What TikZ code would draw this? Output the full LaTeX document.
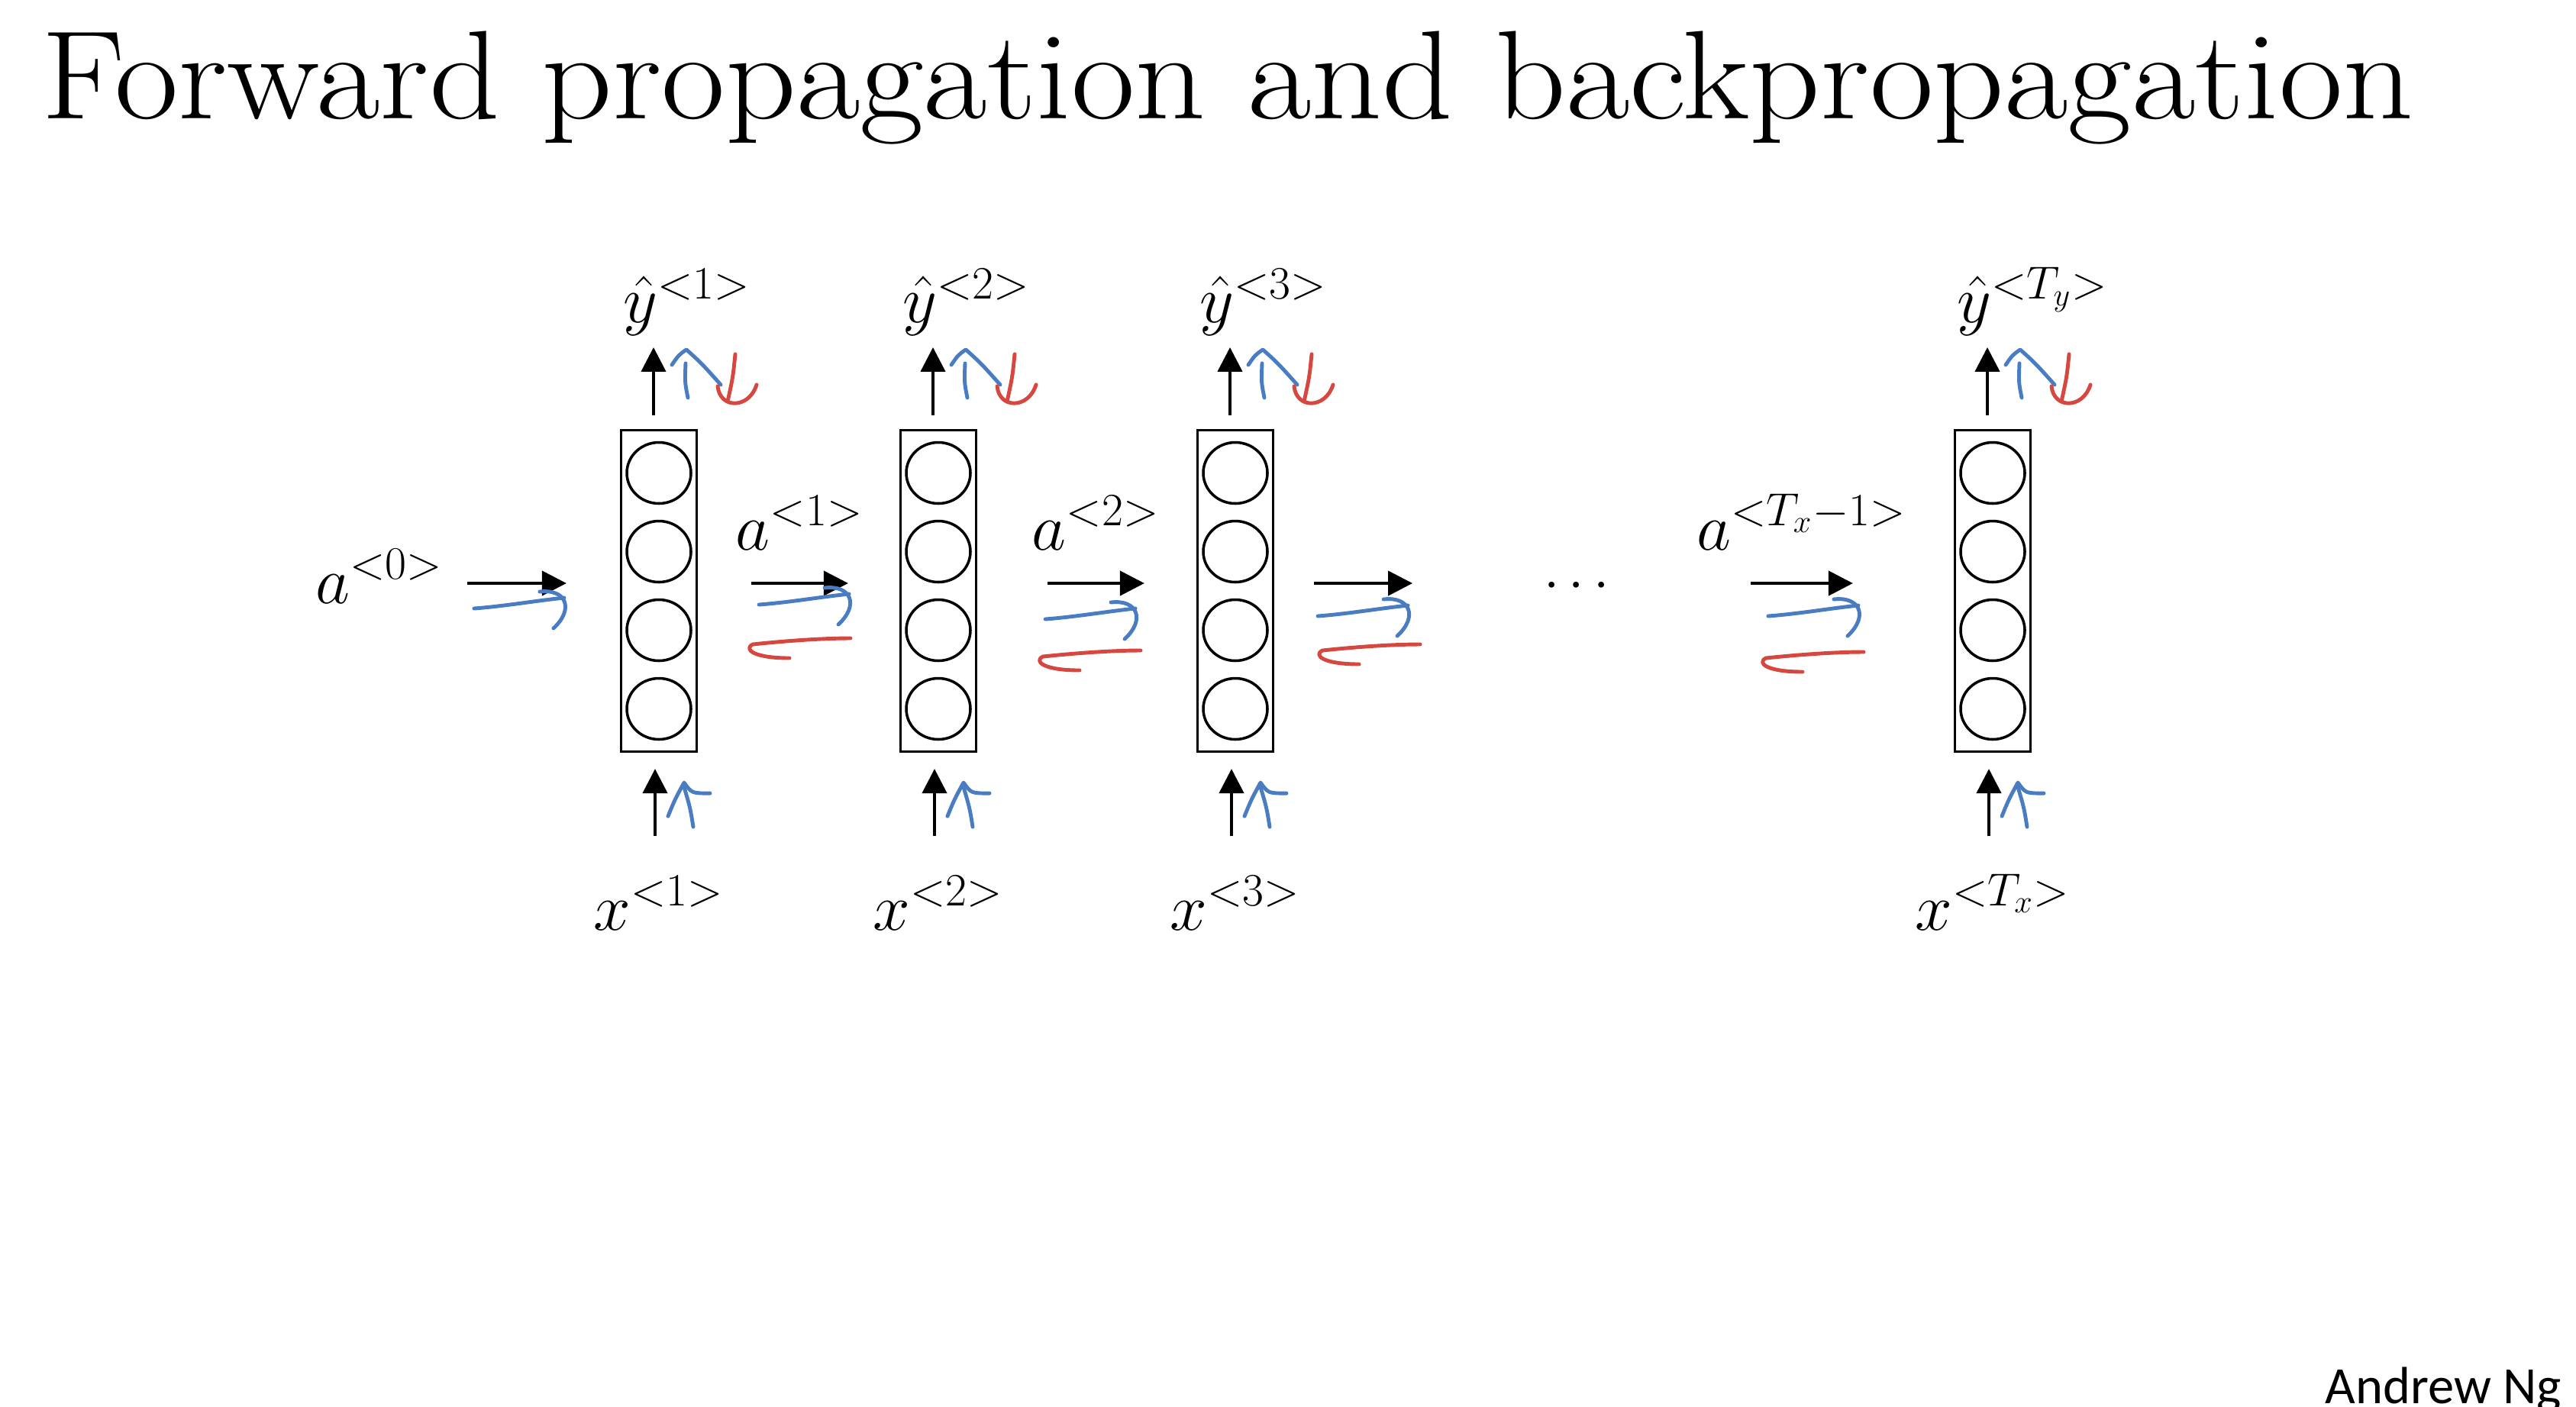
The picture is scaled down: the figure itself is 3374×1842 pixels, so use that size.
\documentclass[tikz,border=0pt]{standalone}
\usepackage{fontspec}
\usepackage{amsmath}
\newfontfamily\slidesans{Carlito}
\usetikzlibrary{
  arrows.meta,
  shapes.geometric,
  positioning,
  calc
}
\definecolor{rnnFwd}{HTML}{4A7CC2}
\definecolor{rnnBack}{HTML}{D5473F}
\tikzset{
  cell/.style={draw, line width=0.9pt, minimum width=9.9mm, minimum height=42.1mm, inner sep=0pt},
  unit/.style={draw, ellipse, line width=1pt, minimum width=8.4mm, minimum height=8mm, inner sep=0pt},
  flow/.style={-{Triangle[length=3.2mm, width=3.2mm]}, line width=1.2pt},
  fwdpen/.style={rnnFwd, line width=1.4pt, line cap=round, line join=round},
  backpen/.style={rnnBack, line width=1.4pt, line cap=round, line join=round},
  lab/.style={font=\fontsize{26}{30}\selectfont, inner sep=0pt},
  alab/.style={lab, anchor=base, yshift=4.4mm},
  title/.style={font=\fontsize{47}{56}\selectfont, inner sep=0pt},
  sign/.style={font=\slidesans\fontsize{19.5}{22}\selectfont, inner sep=0pt},
  % hand-drawn strokes
  fwdhook/.pic={
    \draw[fwdpen] (0,0) .. controls (40,-3) and (80,-10) .. (118,-14);
    \draw[fwdpen] (86,-22) .. controls (120,-26) and (132,0) .. (104,26);
  },
  backhook/.pic={
    \draw[backpen] (0,0) .. controls (-40,0) and (-90,4) .. (-128,8)
      .. controls (-140,14) and (-128,26) .. (-80,26);
  },
  upfwd/.pic={
    \draw[fwdpen] (0,0) .. controls (-4,-20) .. (-3,-45);
    \draw[fwdpen] (-21,-43) .. controls (-12,-56) .. (-2,-63) .. controls (18,-45) .. (43,-17);
  },
  downback/.pic={
    \draw[backpen] (0,0) .. controls (-3,30) .. (-10,62);
    \draw[backpen] (-23,42) .. controls (-20,72) and (18,72) .. (28,40);
  },
  lowfwd/.pic={
    \draw[fwdpen] (0,0) .. controls (-4,-25) .. (-12,-52);
    \draw[fwdpen] (-33,-14) .. controls (-24,-36) .. (-12,-58) .. controls (-2,-44) .. (22,-44);
  }
}

\begin{document}
\begin{tikzpicture}[x=0.1mm, y=-0.1mm]
  \useasboundingbox (0,0) rectangle (3374,1842);

  \node[title, anchor=base west] (ttl) at (54,155) {\scalebox{1.1}[1]{Forward propagation and backpropagation}};
  \node[sign, anchor=base west] (sig) at (3045,1838) {Andrew Ng};

  % cells
  \foreach \i/\cx in {1/863, 2/1229, 3/1618, 4/2610}{
    \node[cell] (c\i) at (\cx,774) {};
    \foreach \k [count=\j] in {-154.5,-51.5,51.5,154.5}
      \node[unit] (c\i-\j) at (\cx,774+\k) {};
    \draw[flow] ($(c\i.north)+(-7,-18)$) -- ($(c\i.north)+(-7,-107)$);
    \draw[flow] ($(c\i.south)+(-5,109)$) -- ($(c\i.south)+(-5,21)$);
    \pic at ($(c\i.north)+(38,-41)$) {upfwd};
    \pic at ($(c\i.north)+(100,-98)$) {downback};
    \pic at ($(c\i.south)+(45,97)$) {lowfwd};
  }

  \foreach \i/\t in {1/1, 2/2, 3/3, 4/T_y}
    \node[lab, anchor=base west] (y\i) at ($(c\i.north)+(-47,-139)$) {$\hat{y}^{<\t>}$};
  \foreach \i/\t in {1/1, 2/2, 3/3, 4/T_x}
    \node[lab, anchor=base] (x\i) at ($(c\i.south)+(0,232)$) {$x^{<\t>}$};

  % activations
  \node[lab, anchor=base east] (a0) at (581,790) {$a^{<0>}$};
  \node[lab, font=\fontsize{22}{26}\selectfont] (dots) at (2071,768) {$\cdots$};
  \draw[flow] ($(c1.west)+(-200,-10)$) coordinate (h0s) -- ($(c1.west)+(-70,-10)$);
  \draw[flow] ($(c1.east)+(70,-10)$) coordinate (h1s) -- node[alab]{$a^{<1>}$} ($(c2.west)+(-67,-10)$) coordinate (h1e);
  \draw[flow] ($(c2.east)+(92,-10)$) coordinate (h2s) -- node[alab]{$a^{<2>}$} ($(c3.west)+(-68,-10)$) coordinate (h2e);
  \draw[flow] ($(c3.east)+(52,-10)$) coordinate (h3s) -- ($(c3.east)+(181,-10)$) coordinate (h3e);
  \draw[flow] ($(c4.west)+(-266,-10)$) coordinate (h4s) -- node[alab]{$a^{<T_x-1>}$} ($(c4.west)+(-132,-10)$) coordinate (h4e);

  \pic at ($(h0s)+(9,33)$) {fwdhook};
  \pic at ($(h1s)+(10,28)$) {fwdhook};
  \pic at ($(h2s)+(-3,47)$) {fwdhook};
  \pic at ($(h3s)+(5,43)$) {fwdhook};
  \pic at ($(h4s)+(23,43)$) {fwdhook};
  \pic at ($(h1e)+(3,72)$) {backhook};
  \pic at ($(h2e)+(-5,88)$) {backhook};
  \pic at ($(h3e)+(10,80)$) {backhook};
  \pic at ($(h4e)+(14,90)$) {backhook};
\end{tikzpicture}
\end{document}
